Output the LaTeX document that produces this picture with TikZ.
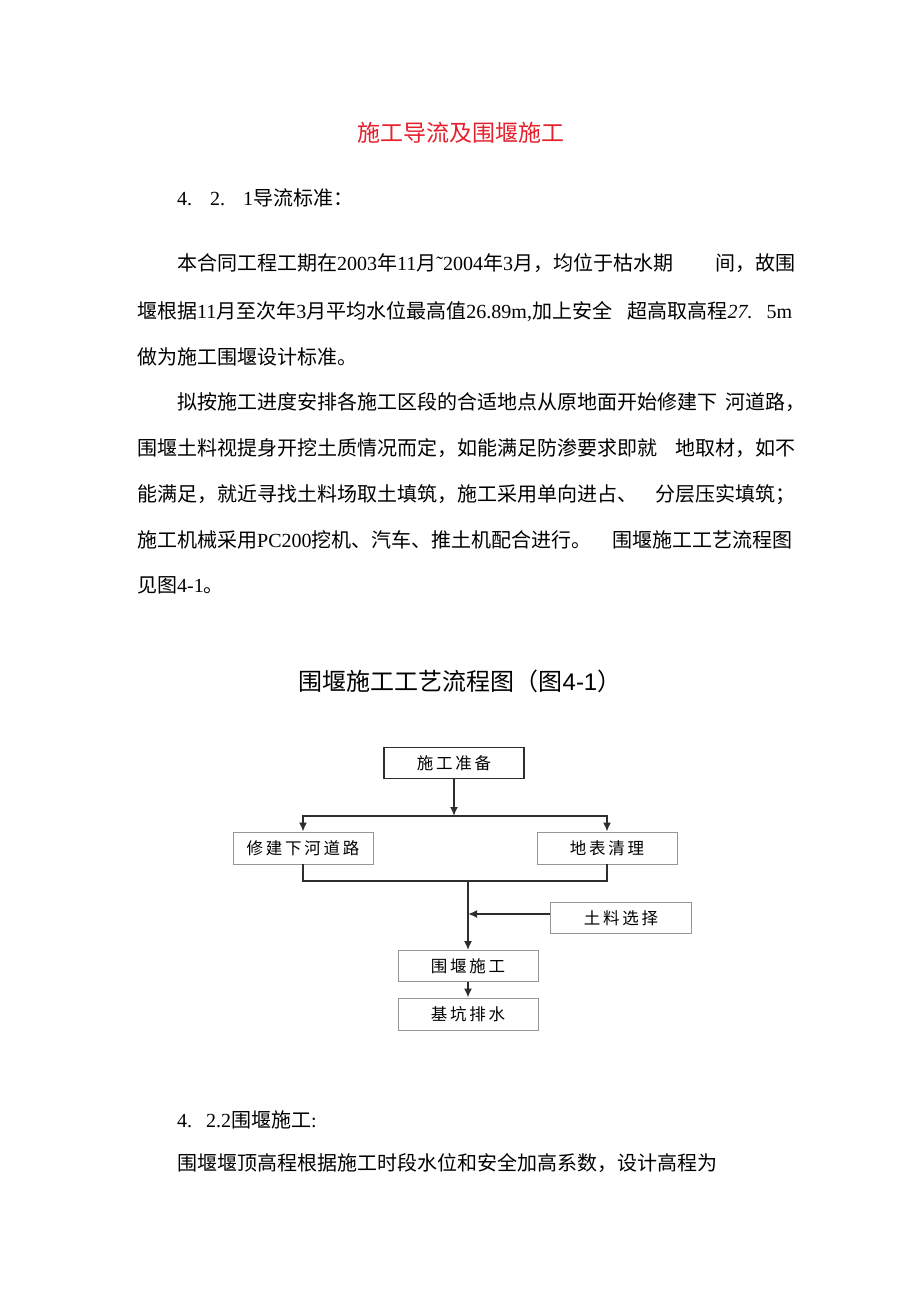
\documentclass[tikz,border=0pt]{standalone}
\usepackage{fontspec}
\setmainfont{Noto Sans CJK SC}
\newfontfamily\latin{Liberation Serif}
\newfontfamily\arial{Liberation Sans}
\newcommand{\lt}[1]{{\latin #1}}
\usetikzlibrary{arrows.meta}
\definecolor{titlered}{RGB}{228,32,44}
\definecolor{boxgray}{RGB}{150,150,150}
\definecolor{linegray}{RGB}{45,45,45}

\begin{document}
\begin{tikzpicture}
[every node/.style={inner sep=0pt},
 body/.style={anchor=base west, font=\fontsize{20pt}{20pt}\selectfont},
 box/.style={rectangle, minimum width=140pt, minimum height=31pt, fill=white, draw=boxgray, line width=0.8pt, font=\fontsize{16.5pt}{16.5pt}\selectfont},
 flow/.style={line width=1.8pt, color=linegray},
 arrow/.style={flow, -{Latex[length=9pt,width=8pt]}}]
\useasboundingbox (0pt,0pt) rectangle (920pt,-1301pt);
\fill [white] (0pt,0pt) rectangle (920pt,-1301pt);

% page text
\node (title) [anchor=base, font=\fontsize{23pt}{23pt}\selectfont, text=titlered] at (461pt, -141pt) {施工导流及围堰施工};
\node (h1) [body] at (177pt, -205pt) {\lt{4.\hspace{18pt}2.\hspace{18pt}1}导流标准：};
\node (p1) [body] at (177pt, -270pt) {\makebox[618pt][l]{本合同工程工期在\lt{2003}年\lt{11}月\lt{˜2004}年\lt{3}月，均位于枯水期\hfill 间，故围}};
\node (p2) [body] at (137pt, -318pt) {\makebox[655pt][l]{堰根据\lt{11}月至次年\lt{3}月平均水位最高值\lt{26.89m,}加上安全\hfill 超高取高程\lt{\textit{27.}\hspace{14pt}5m}}};
\node (p3) [body] at (137pt, -364pt) {做为施工围堰设计标准。};
\node (p4) [body] at (177pt, -409pt) {\makebox[628pt][l]{拟按施工进度安排各施工区段的合适地点从原地面开始修建下\hfill 河道路，}};
\node (p5) [body] at (137pt, -455pt) {\makebox[658pt][l]{围堰土料视提身开挖土质情况而定，如能满足防渗要求即就\hfill 地取材，如不}};
\node (p6) [body] at (137pt, -501pt) {\makebox[658pt][l]{能满足，就近寻找土料场取土填筑，施工采用单向进占、\hfill 分层压实填筑；}};
\node (p7) [body] at (137pt, -547pt) {\makebox[655pt][l]{施工机械采用\lt{PC200}挖机、汽车、推土机配合进行。\hfill 围堰施工工艺流程图}};
\node (p8) [body] at (137pt, -592pt) {见图\lt{4-1}。};
\node (cap) [anchor=base, font=\fontsize{24pt}{24pt}\selectfont] at (460pt, -690pt) {围堰施工工艺流程图（图{\arial 4-1}）};
\node (h2) [body] at (177pt, -1127pt) {\lt{4.\hspace{14pt}2.2}围堰施工\lt{:}};
\node (p9) [body] at (177pt, -1170pt) {围堰堰顶高程根据施工时段水位和安全加高系数，设计高程为};

% flow chart
\node (1) [box, draw=linegray, line width=1.3pt] at (454pt, -763pt) {施\,工\,准\,备};
\node (2) [box, minimum height=32pt] at (303pt, -848pt) {修\,建\,下\,河\,道\,路};
\node (3) [box, minimum height=32pt] at (607pt, -848pt) {地\,表\,清\,理};
\node (4) [box, minimum width=141pt] at (621pt, -918pt) {土\,料\,选\,择};
\node (5) [box] at (468pt, -966pt) {围\,堰\,施\,工};
\node (6) [box, minimum height=32pt] at (468pt, -1014pt) {基\,坑\,排\,水};
\coordinate (s) at (454pt, -816pt);
\coordinate (m) at (468pt, -881pt);
\draw [arrow] (1) to (s);
\draw [arrow] (s) -| (2);
\draw [arrow] (s) -| (3);
\draw [flow] (2) |- (m);
\draw [flow] (3) |- (m);
\draw [arrow] (m) to (5);
\draw [arrow] ([yshift=4pt]4.west) to ([yshift=4pt]4.west -| m);
\draw [arrow] (5) to (6);
\end{tikzpicture}
\end{document}
